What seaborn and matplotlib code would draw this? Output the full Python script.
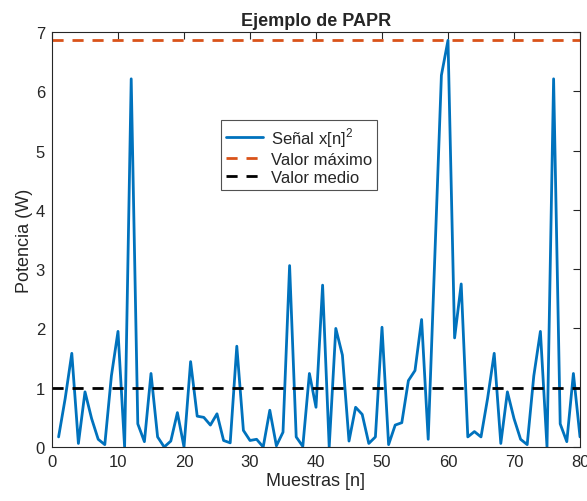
import numpy as np
import pandas as pd
import matplotlib
matplotlib.use("Agg")
import matplotlib.pyplot as plt
import seaborn as sns

# Data
muestras = list(range(1, 81))
potencia = [
    0.17, 0.82, 1.58, 0.06, 0.93, 0.48, 0.13, 0.04, 1.20, 1.95,
    0.00, 6.21, 0.39, 0.09, 1.24, 0.17, 0.00, 0.10, 0.58, 0.00,
    1.44, 0.52, 0.50, 0.37, 0.56, 0.11, 0.07, 1.70, 0.28, 0.11,
    0.13, 0.00, 0.62, 0.02, 0.25, 3.06, 0.17, 0.01, 1.24, 0.67,
    2.73, 0.00, 2.00, 1.55, 0.10, 0.67, 0.55, 0.06, 0.17, 2.02,
    0.04, 0.37, 0.41, 1.12, 1.29, 2.15, 0.13, 3.20, 6.27, 6.86,
    1.84, 2.75, 0.17, 0.26, 0.17, 0.82, 1.58, 0.06, 0.93, 0.48,
    0.13, 0.04, 1.20, 1.95, 0.00, 6.21, 0.39, 0.09, 1.24, 0.17,
]
valor_maximo = 6.86
valor_medio = 1.0
xticks = [0, 10, 20, 30, 40, 50, 60, 70, 80]
yticks = [0, 1, 2, 3, 4, 5, 6, 7]

df = pd.DataFrame({"n": muestras, "p": potencia})

sns.set_theme(style="white")
plt.rcParams["font.family"] = ["Liberation Sans", "DejaVu Sans"]
plt.rcParams["mathtext.fontset"] = "custom"
plt.rcParams["mathtext.rm"] = "Liberation Sans"

fig = plt.figure(figsize=(5.87, 5.02), dpi=100)
ax = fig.add_axes([52 / 587, 1 - 448 / 502, (580 - 52) / 587, (448 - 33) / 502])

blue = "#0072BD"
orange = "#D95319"
sns.lineplot(data=df, x="n", y="p", ax=ax, color=blue, linewidth=2,
             label="Señal x[n]$^{2}$")
ax.axhline(valor_maximo, color=orange, linestyle=(0, (4, 3.2)), linewidth=2,
           label="Valor máximo")
ax.axhline(valor_medio, color="black", linestyle=(0, (4, 3.2)), linewidth=2,
           label="Valor medio")

ax.set_xlim(0, 80)
ax.set_ylim(0, 7)
ax.set_xticks(xticks)
ax.set_yticks(yticks)
ax.tick_params(direction="in", top=True, right=True, length=5, width=0.8,
               colors="#262626", labelsize=12, labelcolor="#262626",
               pad=5)
for s in ax.spines.values():
    s.set_color("#262626")
    s.set_linewidth(0.8)

ax.set_xlabel("Muestras [n]", fontsize=13, color="#262626", labelpad=2)
ax.set_ylabel("Potencia (W)", fontsize=13, color="#262626", labelpad=2)
ax.set_title("Ejemplo de PAPR", fontsize=13, fontweight="bold", pad=5)

leg = ax.legend(loc="upper left", bbox_to_anchor=(221 / 587, 1 - 121 / 502),
                bbox_transform=fig.transFigure, fontsize=12, frameon=True,
                fancybox=False, edgecolor="#262626", handlelength=2.2,
                handletextpad=0.5, borderpad=0.3, labelspacing=0.2,
                borderaxespad=0)
leg.get_frame().set_linewidth(0.8)

fig.savefig("out.png", dpi=100)
